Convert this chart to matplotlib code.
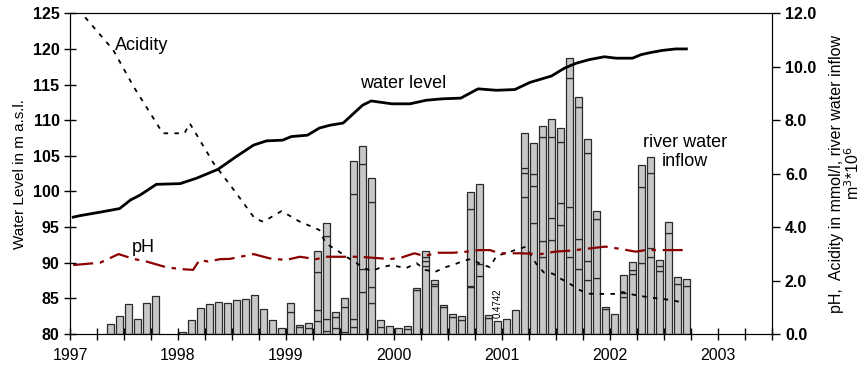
import numpy as np
import matplotlib
matplotlib.use("Agg")
import matplotlib.pyplot as plt
import matplotlib.transforms as mtransforms
from matplotlib.ticker import MultipleLocator, FormatStrFormatter

plt.rcParams['font.family'] = ['Liberation Sans', 'DejaVu Sans']

nan = np.nan

# monthly river water inflow (m3*10^6), May 1997 .. Sep 2002
inflow_start = 1997 + 4 / 12.0
inflow_total = [
    0.36, 0.67, 1.11, 0.56, 1.15, 1.42, nan, nan,
    0.06, 0.54, 0.97, 1.12, 1.19, 1.15, 1.26, 1.30, 1.45, 0.92, 0.54, 0.24,
    1.16, 0.35, 0.40, 3.09, 4.14, 0.83, 1.36, 6.47, 7.04, 5.85, 0.52, 0.30,
    0.21, 0.31, 1.71, 3.11, 2.02, 1.09, 0.74, 0.66, 5.33, 5.61, 0.70, 0.4742,
    0.55, 0.91, 7.51, 7.16, 7.77, 8.06, 7.70, 10.34, 8.86, 7.29, 4.59, 1.02,
    0.76, 2.19, 2.69, 6.34, 6.64, 2.76, 4.19, 2.12, 2.05,
]
# inner divisions seen inside the bars
inflow_marks = [
    [], [], [], [], [], [], [], [],
    [], [], [], [], [], [], [], [], [], [], [], [],
    [0.81], [0.27], [0.24], [0.47, 0.90, 2.33], [0.11, 0.55, 3.68], [0.21, 0.62],
    [0.06, 1.02], [0.27, 0.55, 5.23], [1.58, 2.42, 6.36], [1.17, 1.75, 4.93], [0.25], [],
    [], [0.19], [1.65], [2.54, 2.73, 2.89], [1.80, 1.87], [1.0],
    [0.62], [0.52], [1.75, 1.80, 4.68], [2.18, 2.62], [0.60], [],
    [], [], [5.12, 6.04, 6.20], [4.17, 5.54, 6.0], [2.87, 3.48, 7.38], [3.51, 4.33, 7.38],
    [4.07, 4.89, 7.19], [2.89, 4.76, 9.58], [2.42, 3.54, 8.48], [2.01, 2.73, 6.76], [2.08, 4.29], [0.92],
    [], [1.40, 1.55], [2.23, 2.41], [2.65, 5.51], [2.89, 3.23, 6.01], [2.37, 2.54],
    [3.79], [1.87], [1.80],
]

# water level (m a.s.l.)
wl_year = [1997.03, 1997.09, 1997.28, 1997.46, 1997.56, 1997.65, 1997.80, 1998.02, 1998.17,
           1998.37, 1998.54, 1998.70, 1998.82, 1998.97, 1999.05, 1999.20, 1999.31, 1999.41,
           1999.53, 1999.71, 1999.79, 1999.98, 2000.15, 2000.30, 2000.45, 2000.62, 2000.78,
           2000.95, 2001.12, 2001.26, 2001.46, 2001.58, 2001.69, 2001.81, 2001.95, 2002.06,
           2002.21, 2002.29, 2002.38, 2002.49, 2002.61, 2002.71]
wl_level = [96.4, 96.6, 97.1, 97.6, 98.8, 99.5, 101.0, 101.1, 101.85,
            103.1, 104.9, 106.5, 107.1, 107.2, 107.7, 107.9, 108.9, 109.3,
            109.6, 112.1, 112.7, 112.3, 112.3, 112.8, 113.0, 113.1, 114.4,
            114.2, 114.3, 115.3, 116.2, 117.3, 118.0, 118.5, 118.9, 118.7,
            118.7, 119.2, 119.5, 119.8, 120.0, 120.0]

# acidity (mmol/l)
ac_year = [1997.14, 1997.40, 1997.59, 1997.86, 1998.06, 1998.11, 1998.33, 1998.54, 1998.71,
           1998.79, 1998.96, 1999.13, 1999.22, 1999.31, 1999.37, 1999.47, 1999.56, 1999.71,
           1999.79, 1999.88, 1999.98, 2000.11, 2000.21, 2000.29, 2000.38, 2000.47, 2000.56,
           2000.65, 2000.72, 2000.80, 2000.89, 2000.95, 2001.05, 2001.15, 2001.22, 2001.32,
           2001.39, 2001.47, 2001.55, 2001.63, 2001.72, 2001.79, 2001.90, 2002.06, 2002.12,
           2002.23, 2002.38, 2002.50, 2002.67]
ac_value = [11.85, 10.63, 9.25, 7.51, 7.51, 7.88, 6.39, 5.27, 4.33,
            4.20, 4.60, 4.20, 4.05, 3.89, 3.39, 3.14, 2.89, 2.51,
            2.35, 2.49, 2.58, 2.46, 2.65, 2.40, 2.32, 2.49, 2.60,
            2.75, 2.81, 2.62, 2.50, 2.92, 3.04, 3.18, 3.26, 2.62,
            2.30, 2.26, 2.06, 1.88, 1.65, 1.51, 1.50, 1.50, 1.57,
            1.46, 1.36, 1.31, 1.19]

# pH
ph_year = [1997.03, 1997.28, 1997.45, 1997.59, 1997.71, 1997.89, 1998.02, 1998.14, 1998.20,
           1998.28, 1998.39, 1998.48, 1998.70, 1998.85, 1999.00, 1999.13, 1999.28, 1999.37,
           1999.53, 1999.68, 1999.88, 1999.96, 2000.07, 2000.19, 2000.28, 2000.41, 2000.55,
           2000.67, 2000.79, 2000.89, 2000.98, 2001.18, 2001.36, 2001.49, 2001.64, 2001.83,
           2001.96, 2002.12, 2002.24, 2002.33, 2002.69]
ph_value = [2.58, 2.67, 2.99, 2.81, 2.71, 2.50, 2.43, 2.40, 2.77,
            2.71, 2.80, 2.81, 2.99, 2.83, 2.77, 2.89, 2.80, 2.89,
            2.89, 2.89, 2.83, 2.80, 2.86, 3.02, 2.92, 3.04, 3.04,
            3.08, 3.14, 3.14, 3.02, 3.02, 2.99, 3.08, 3.12, 3.21,
            3.27, 3.17, 3.08, 3.14, 3.14]

years = [1997, 1998, 1999, 2000, 2001, 2002, 2003]

fig = plt.figure(figsize=(8.66, 3.71), dpi=100)
ax = fig.add_axes([70 / 866, 37 / 371, 701.7 / 866, 320.7 / 371])
ax2 = ax.twinx()

# stacked bars on the right axis
month_w = 1 / 12.0
x_bar = inflow_start + (np.arange(len(inflow_total)) + 0.5) * month_w
for xb, tot, marks in zip(x_bar, inflow_total, inflow_marks):
    if np.isnan(tot):
        continue
    levels = [0.0] + sorted(marks) + [tot]
    for lo, hi in zip(levels[:-1], levels[1:]):
        ax2.bar(xb, hi - lo, bottom=lo, width=0.74 * month_w, color='#c8c8c8',
                edgecolor='#2a2a2a', linewidth=0.9, zorder=2)

i_small = inflow_total.index(0.4742)
ax2.text(x_bar[i_small], inflow_total[i_small] + 0.12, '0.4742', rotation=90,
         ha='center', va='bottom', fontsize=7)

ax2.plot(ac_year, ac_value, color='black', lw=1.3, ls=(0, (2.5, 3.5)), zorder=3)
ax2.plot(ph_year, ph_value, color='#8b0000', lw=1.6, ls=(0, (9, 3, 2, 3)), zorder=3)

ax.plot(wl_year, wl_level, color='black', lw=2.0, zorder=4)
ax.set_zorder(ax2.get_zorder() + 1)
ax.patch.set_visible(False)

ax.set_xlim(1997, 2003.5)
ax.set_ylim(80, 125)
ax2.set_ylim(0, 12)

ax.set_xticks(years)
ax.set_xticklabels([str(y) for y in years], fontsize=11.5)
shift = mtransforms.ScaledTranslation(4 / 100, 0, fig.dpi_scale_trans)
for lab in ax.get_xticklabels():
    lab.set_transform(lab.get_transform() + shift)
ax.xaxis.set_minor_locator(MultipleLocator(0.25))
ax.tick_params(axis='x', which='both', direction='inout', length=8, width=1, pad=6)
ax.yaxis.set_major_locator(MultipleLocator(5))
ax.tick_params(axis='y', direction='inout', length=8, width=1)
for lab in ax.get_yticklabels():
    lab.set_fontweight('bold')
    lab.set_fontsize(11.5)

ax2.yaxis.set_major_locator(MultipleLocator(2))
ax2.yaxis.set_major_formatter(FormatStrFormatter('%.1f'))
ax2.tick_params(axis='y', direction='out', length=6, width=1)
for lab in ax2.get_yticklabels():
    lab.set_fontweight('bold')
    lab.set_fontsize(11.5)

ax.set_ylabel('Water Level in m a.s.l.', fontsize=11)
ax2.set_ylabel('pH,  Acidity in mmol/l, river water inflow\nm$^{3}$*10$^{6}$',
               fontsize=11.5, linespacing=1.0, labelpad=9)

ax2.text(1997.66, 10.78, 'Acidity', fontsize=13, ha='center', va='center')
ax2.text(2000.09, 9.39, 'water level', fontsize=13, ha='center', va='center')
ax2.text(2002.70, 6.81, 'river water\ninflow', fontsize=13, ha='center', va='center',
         linespacing=1.2)
ax2.text(1997.675, 3.24, 'pH', fontsize=13, ha='center', va='center')

fig.savefig('out.png', dpi=100)
